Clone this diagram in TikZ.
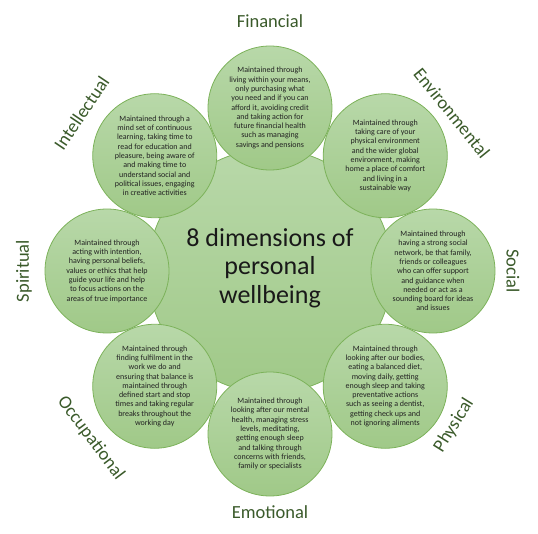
\documentclass[tikz,border=0pt]{standalone}
\usepackage{fontspec}
\setmainfont{Carlito}
\definecolor{ringgreen}{HTML}{7CB25A}
\definecolor{filltop}{HTML}{B8D8A9}
\definecolor{fillbot}{HTML}{A0C988}
\definecolor{dimgreen}{HTML}{3A5A2A}
\definecolor{bodygrey}{HTML}{222222}
\tikzset{
  petal/.style={circle, draw=ringgreen, line width=.8pt, top color=filltop, bottom color=fillbot, minimum size=124pt, inner sep=0pt},
  hub/.style={petal, minimum size=244pt},
  blurb/.style={align=center, font=\fontsize{8}{9.3}\selectfont, text=bodygrey, inner sep=0pt},
  dimlabel/.style={font=\fontsize{18.5}{20}\selectfont, text=dimgreen, inner sep=0pt},
}
\begin{document}
\begin{tikzpicture}[x=1pt,y=1pt]
	\useasboundingbox (-270,-262) rectangle (268,271);
	
	\node[hub] (hub) at (0,0) {};
	\node[align=center, font=\fontsize{26}{28.5}\selectfont, text=black!90] (title) at (0,3) {8 dimensions of\\personal\\wellbeing};
	
	% the eight dimensions
	\node[petal] (fin) at (90:163) {};
	\node[petal] (env) at (45:163) {};
	\node[petal] (soc) at (0:163) {};
	\node[petal] (phy) at (-45:163) {};
	\node[petal] (emo) at (-90:163) {};
	\node[petal] (occ) at (-135:163) {};
	\node[petal] (spi) at (180:163) {};
	\node[petal] (int) at (135:163) {};
	
	\node[blurb] (fintext) at (fin) {Maintained through\\living within your means,\\only purchasing what\\you need and if you can\\afford it, avoiding credit\\and taking action for\\future financial health\\such as managing\\savings and pensions};
	\node[blurb] (envtext) at (env) {Maintained through\\taking care of your\\physical environment\\and the wider global\\environment, making\\home a place of comfort\\and living in a\\sustainable way};
	\node[blurb] (soctext) at (soc) {Maintained through\\having a strong social\\network, be that family,\\friends or colleagues\\who can offer support\\and guidance when\\needed or act as a\\sounding board for ideas\\and issues};
	\node[blurb] (phytext) at (phy) {Maintained through\\looking after our bodies,\\eating a balanced diet,\\moving daily, getting\\enough sleep and taking\\preventative actions\\such as seeing a dentist,\\getting check ups and\\not ignoring aliments};
	\node[blurb] (emotext) at (emo) {Maintained through\\looking after our mental\\health, managing stress\\levels, meditating,\\getting enough sleep\\and talking through\\concerns with friends,\\family or specialists};
	\node[blurb] (occtext) at (occ) {Maintained through\\finding fulfilment in the\\work we do and\\ensuring that balance is\\maintained through\\defined start and stop\\times and taking regular\\breaks throughout the\\working day};
	\node[blurb] (spitext) at (spi) {Maintained through\\acting with intention,\\having personal beliefs,\\values or ethics that help\\guide your life and help\\to focus actions on the\\areas of true importance};
	\node[blurb] (inttext) at (int) {Maintained through a\\mind set of continuous\\learning, taking time to\\read for education and\\pleasure, being aware of\\and making time to\\understand social and\\political issues,  engaging\\in creative activities};
	
	% labels round the ring
	\node[dimlabel] (finlabel) at (90:250) {Financial};
	\node[dimlabel, rotate=-51] (envlabel) at (41:241) {Environmental};
	\node[dimlabel, rotate=-90] (soclabel) at (0:243) {Social};
	\node[dimlabel, rotate=58] (phylabel) at (-40:240) {Physical};
	\node[dimlabel] (emolabel) at (-90:241) {Emotional};
	\node[dimlabel, rotate=-53] (occlabel) at (-137:245) {Occupational};
	\node[dimlabel, rotate=90] (spilabel) at (180:246) {Spiritual};
	\node[dimlabel, rotate=56] (intlabel) at (140:246) {Intellectual};
\end{tikzpicture}
\end{document}
